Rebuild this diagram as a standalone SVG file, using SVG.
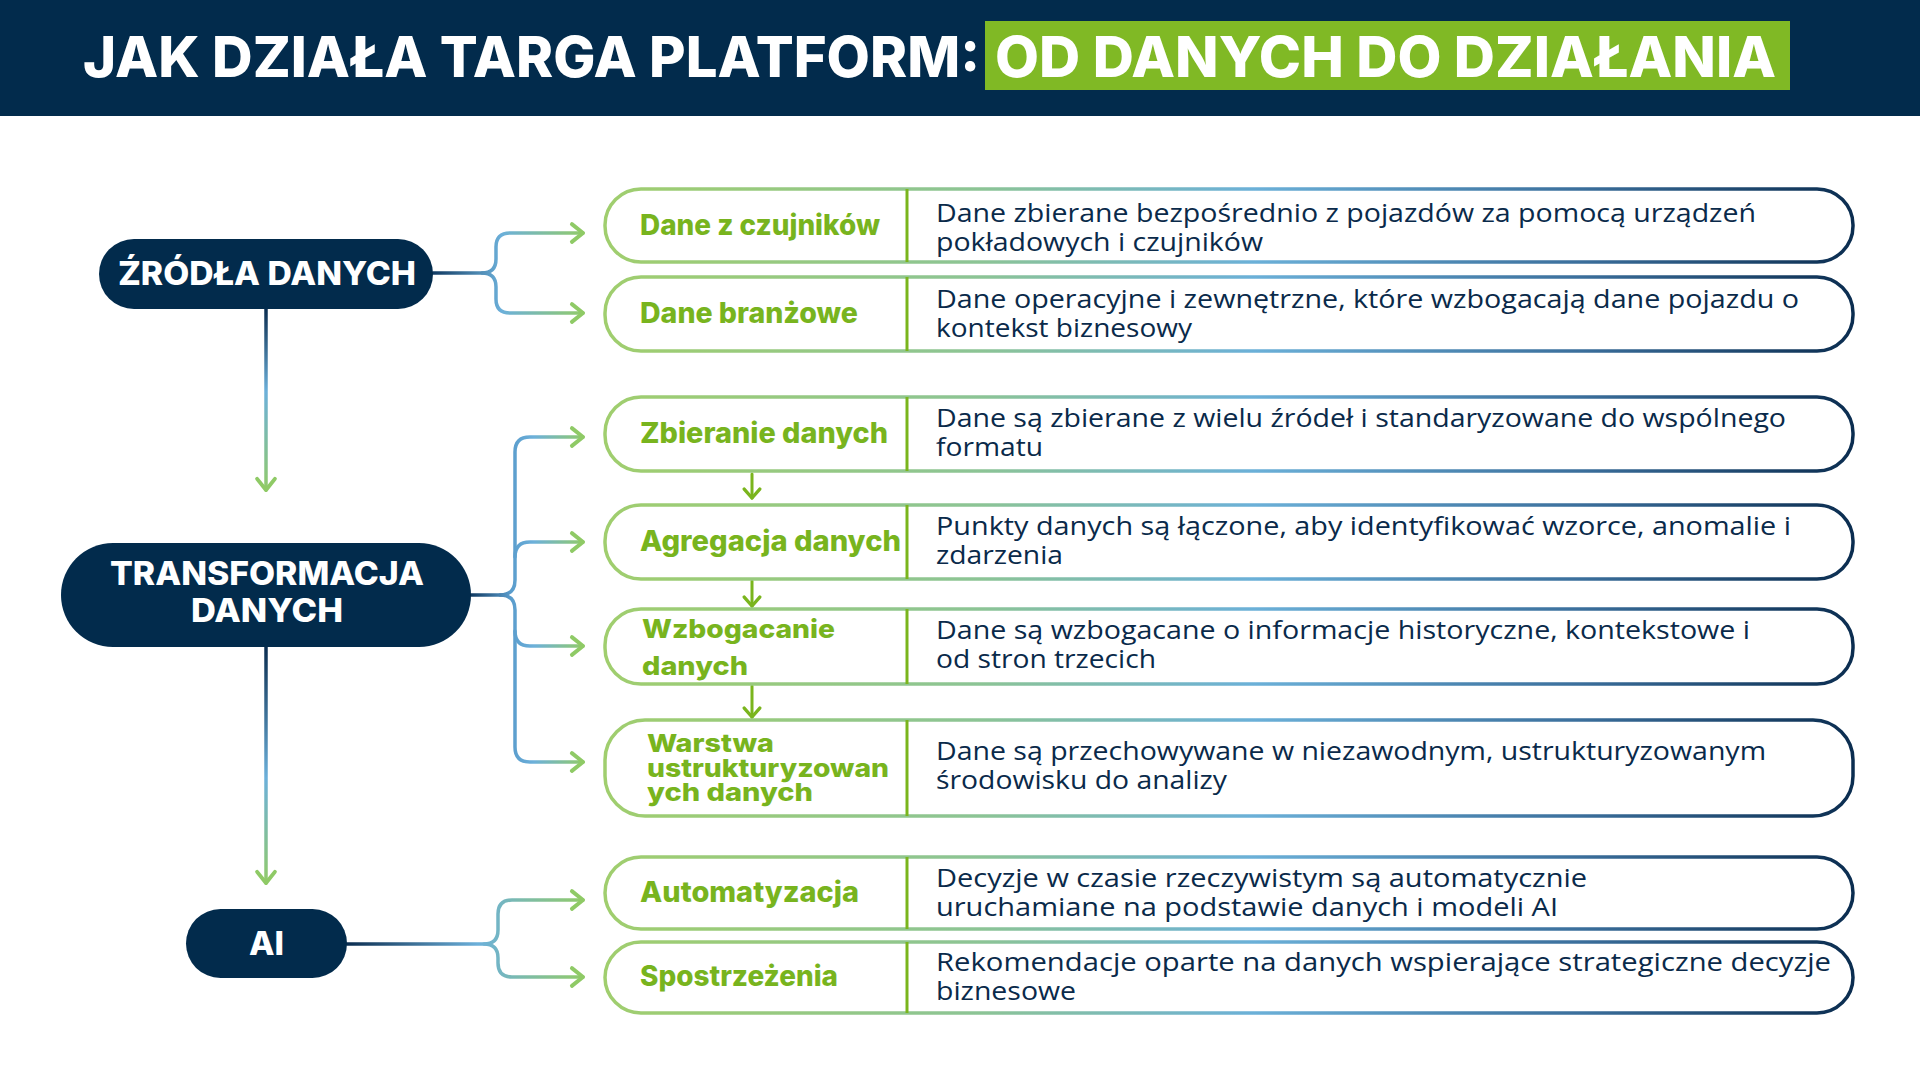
<svg xmlns="http://www.w3.org/2000/svg" width="1920" height="1080" viewBox="0 0 1920 1080">
<defs>
<style>
.title{font-family:Inter,"Open Sans",sans-serif;font-weight:800;font-size:57px;fill:#ffffff}
.node{fill:#022b4c}
.ntext{font-family:Inter,"Open Sans",sans-serif;font-weight:800;font-size:33px;fill:#ffffff}
.row{fill:#ffffff;stroke:url(#rowGrad);stroke-width:3.5}
.div{stroke:#7ab51d;stroke-width:3}
.lab{font-family:Inter,"Open Sans",sans-serif;font-weight:800;font-size:28px;fill:#78b41e}
.lab2{font-family:Inter,"Open Sans",sans-serif;font-weight:800;font-size:26px;fill:#78b41e}
.lab3{font-family:Inter,"Open Sans",sans-serif;font-weight:800;font-size:25px;fill:#78b41e}
.desc{font-family:"Open Sans","Noto Sans",sans-serif;font-size:25px;fill:#0a2a4a}
.con{fill:none;stroke-width:3.5;stroke-linecap:round}
.small{fill:none;stroke:#7ab51d;stroke-width:3;stroke-linecap:round}
</style>
<linearGradient id="rowGrad" gradientUnits="userSpaceOnUse" x1="605" y1="0" x2="1853" y2="0">
<stop offset="0" stop-color="#a0ce6e"/>
<stop offset="0.3" stop-color="#8cc495"/>
<stop offset="0.52" stop-color="#6bb0d8"/>
<stop offset="0.78" stop-color="#3b6f9c"/>
<stop offset="1" stop-color="#0b2d50"/>
</linearGradient>
<linearGradient id="gSrc" gradientUnits="userSpaceOnUse" x1="433" y1="0" x2="585" y2="0">
<stop offset="0" stop-color="#103a62"/>
<stop offset="0.45" stop-color="#6cb0da"/>
<stop offset="1" stop-color="#92cb68"/>
</linearGradient>
<linearGradient id="gTr" gradientUnits="userSpaceOnUse" x1="471" y1="0" x2="585" y2="0">
<stop offset="0" stop-color="#103a62"/>
<stop offset="0.35" stop-color="#5a9ccc"/>
<stop offset="0.55" stop-color="#6cb0da"/>
<stop offset="1" stop-color="#92cb68"/>
</linearGradient>
<linearGradient id="gAi" gradientUnits="userSpaceOnUse" x1="347" y1="0" x2="585" y2="0">
<stop offset="0" stop-color="#0b2d50"/>
<stop offset="0.55" stop-color="#6cb0da"/>
<stop offset="1" stop-color="#92cb68"/>
</linearGradient>
<linearGradient id="gV1" gradientUnits="userSpaceOnUse" x1="0" y1="309" x2="0" y2="492">
<stop offset="0" stop-color="#0b2d50"/>
<stop offset="0.45" stop-color="#6cb0da"/>
<stop offset="1" stop-color="#92cb68"/>
</linearGradient>
<linearGradient id="gV2" gradientUnits="userSpaceOnUse" x1="0" y1="647" x2="0" y2="885">
<stop offset="0" stop-color="#0b2d50"/>
<stop offset="0.55" stop-color="#6cb0da"/>
<stop offset="1" stop-color="#92cb68"/>
</linearGradient>
<marker id="arr" markerUnits="userSpaceOnUse" markerWidth="20" markerHeight="24" viewBox="-14 -10 18 20" refX="0" refY="0" orient="auto">
<path d="M-10,-8 L0,0 L-10,8" fill="none" stroke="#8fca66" stroke-width="3.5" stroke-linecap="round" stroke-linejoin="round"/>
</marker>
<marker id="arrS" markerUnits="userSpaceOnUse" markerWidth="20" markerHeight="20" viewBox="-12 -9 15 18" refX="0" refY="0" orient="auto">
<path d="M-8,-7 L0,0 L-8,7" fill="none" stroke="#7ab51d" stroke-width="3" stroke-linecap="round" stroke-linejoin="round"/>
</marker>
</defs>

<rect width="1920" height="1080" fill="#ffffff"/>

<g id="header">
<rect x="0" y="0" width="1920" height="116" fill="#022b4c"/>
<rect x="985" y="21" width="805" height="69" fill="#80b925"/>
<text class="title" x="83" y="77" textLength="897" lengthAdjust="spacingAndGlyphs">JAK DZIAŁA TARGA PLATFORM:</text>
<text class="title" x="995" y="77" textLength="781" lengthAdjust="spacingAndGlyphs">OD DANYCH DO DZIAŁANIA</text>
</g>

<g id="connectors">
<path class="con" stroke="url(#gSrc)" d="M433,273 H482 Q496,273 496,259 V247 Q496,233 510,233 H583" marker-end="url(#arr)"/>
<path class="con" stroke="url(#gSrc)" d="M482,273 Q496,273 496,287 V299 Q496,313 510,313 H583" marker-end="url(#arr)"/>
<path class="con" stroke="url(#gV1)" d="M266,309 V490" marker-end="url(#arr)"/>
<path class="con" stroke="url(#gTr)" d="M471,595 H500 Q515,595 515,580 V452 Q515,437 530,437 H583" marker-end="url(#arr)"/>
<path class="con" stroke="url(#gTr)" d="M515,557 Q515,542 530,542 H583" marker-end="url(#arr)"/>
<path class="con" stroke="url(#gTr)" d="M515,631 Q515,646 530,646 H583" marker-end="url(#arr)"/>
<path class="con" stroke="url(#gTr)" d="M500,595 Q515,595 515,610 V747 Q515,762 530,762 H583" marker-end="url(#arr)"/>
<path class="con" stroke="url(#gV2)" d="M266,647 V883" marker-end="url(#arr)"/>
<path class="con" stroke="url(#gAi)" d="M347,944 H484 Q498,944 498,930 V914 Q498,900 512,900 H583" marker-end="url(#arr)"/>
<path class="con" stroke="url(#gAi)" d="M484,944 Q498,944 498,958 V963 Q498,977 512,977 H583" marker-end="url(#arr)"/>
<path class="small" d="M752,474 V498" marker-end="url(#arrS)"/>
<path class="small" d="M752,581 V606" marker-end="url(#arrS)"/>
<path class="small" d="M752,686 V717" marker-end="url(#arrS)"/>
</g>

<g id="node-zrodla">
<rect class="node" x="99" y="239" width="334" height="70" rx="35"/>
<text class="ntext" x="118" y="285" textLength="298" lengthAdjust="spacingAndGlyphs">ŹRÓDŁA DANYCH</text>
</g>
<g id="node-transformacja">
<rect class="node" x="61" y="543" width="410" height="104" rx="52"/>
<text class="ntext" x="110" y="585" textLength="314" lengthAdjust="spacingAndGlyphs">TRANSFORMACJA</text>
<text class="ntext" x="191" y="622" textLength="152" lengthAdjust="spacingAndGlyphs">DANYCH</text>
</g>
<g id="node-ai">
<rect class="node" x="186" y="909" width="161" height="69" rx="34.5"/>
<text class="ntext" x="249" y="955" textLength="35" lengthAdjust="spacingAndGlyphs">AI</text>
</g>

<g id="row-1">
<rect class="row" x="605" y="189" width="1248" height="73" rx="36"/>
<line class="div" x1="907" y1="189" x2="907" y2="262"/>
<text class="lab" x="640" y="235" textLength="240" lengthAdjust="spacingAndGlyphs">Dane z czujników</text>
<text class="desc" x="936" y="222" textLength="820" lengthAdjust="spacingAndGlyphs">Dane zbierane bezpośrednio z pojazdów za pomocą urządzeń</text>
<text class="desc" x="936" y="251" textLength="327" lengthAdjust="spacingAndGlyphs">pokładowych i czujników</text>
</g>
<g id="row-2">
<rect class="row" x="605" y="277" width="1248" height="74" rx="36"/>
<line class="div" x1="907" y1="277" x2="907" y2="351"/>
<text class="lab" x="640" y="323" textLength="218" lengthAdjust="spacingAndGlyphs">Dane branżowe</text>
<text class="desc" x="936" y="308" textLength="863" lengthAdjust="spacingAndGlyphs">Dane operacyjne i zewnętrzne, które wzbogacają dane pojazdu o</text>
<text class="desc" x="936" y="337" textLength="256" lengthAdjust="spacingAndGlyphs">kontekst biznesowy</text>
</g>
<g id="row-3">
<rect class="row" x="605" y="397" width="1248" height="74" rx="36"/>
<line class="div" x1="907" y1="397" x2="907" y2="471"/>
<text class="lab" x="640" y="443" textLength="248" lengthAdjust="spacingAndGlyphs">Zbieranie danych</text>
<text class="desc" x="936" y="427" textLength="850" lengthAdjust="spacingAndGlyphs">Dane są zbierane z wielu źródeł i standaryzowane do wspólnego</text>
<text class="desc" x="936" y="456" textLength="107" lengthAdjust="spacingAndGlyphs">formatu</text>
</g>
<g id="row-4">
<rect class="row" x="605" y="505" width="1248" height="74" rx="36"/>
<line class="div" x1="907" y1="505" x2="907" y2="579"/>
<text class="lab" x="640" y="551" textLength="261" lengthAdjust="spacingAndGlyphs">Agregacja danych</text>
<text class="desc" x="936" y="535" textLength="855" lengthAdjust="spacingAndGlyphs">Punkty danych są łączone, aby identyfikować wzorce, anomalie i</text>
<text class="desc" x="936" y="564" textLength="127" lengthAdjust="spacingAndGlyphs">zdarzenia</text>
</g>
<g id="row-5">
<rect class="row" x="605" y="609" width="1248" height="75" rx="36"/>
<line class="div" x1="907" y1="609" x2="907" y2="684"/>
<text class="lab2" x="642" y="638" textLength="193" lengthAdjust="spacingAndGlyphs">Wzbogacanie</text>
<text class="lab2" x="642" y="675" textLength="106" lengthAdjust="spacingAndGlyphs">danych</text>
<text class="desc" x="936" y="639" textLength="814" lengthAdjust="spacingAndGlyphs">Dane są wzbogacane o informacje historyczne, kontekstowe i</text>
<text class="desc" x="936" y="668" textLength="220" lengthAdjust="spacingAndGlyphs">od stron trzecich</text>
</g>
<g id="row-6">
<rect class="row" x="605" y="720" width="1248" height="96" rx="40"/>
<line class="div" x1="907" y1="720" x2="907" y2="816"/>
<text class="lab3" x="647" y="752" textLength="127" lengthAdjust="spacingAndGlyphs">Warstwa</text>
<text class="lab3" x="647" y="777" textLength="242" lengthAdjust="spacingAndGlyphs">ustrukturyzowan</text>
<text class="lab3" x="647" y="801" textLength="166" lengthAdjust="spacingAndGlyphs">ych danych</text>
<text class="desc" x="936" y="760" textLength="830" lengthAdjust="spacingAndGlyphs">Dane są przechowywane w niezawodnym, ustrukturyzowanym</text>
<text class="desc" x="936" y="789" textLength="291" lengthAdjust="spacingAndGlyphs">środowisku do analizy</text>
</g>
<g id="row-7">
<rect class="row" x="605" y="857" width="1248" height="72" rx="36"/>
<line class="div" x1="907" y1="857" x2="907" y2="929"/>
<text class="lab" x="640" y="902" textLength="219" lengthAdjust="spacingAndGlyphs">Automatyzacja</text>
<text class="desc" x="936" y="887" textLength="651" lengthAdjust="spacingAndGlyphs">Decyzje w czasie rzeczywistym są automatycznie</text>
<text class="desc" x="936" y="916" textLength="622" lengthAdjust="spacingAndGlyphs">uruchamiane na podstawie danych i modeli AI</text>
</g>
<g id="row-8">
<rect class="row" x="605" y="942" width="1248" height="71" rx="36"/>
<line class="div" x1="907" y1="942" x2="907" y2="1013"/>
<text class="lab" x="640" y="986" textLength="198" lengthAdjust="spacingAndGlyphs">Spostrzeżenia</text>
<text class="desc" x="936" y="971" textLength="895" lengthAdjust="spacingAndGlyphs">Rekomendacje oparte na danych wspierające strategiczne decyzje</text>
<text class="desc" x="936" y="1000" textLength="140" lengthAdjust="spacingAndGlyphs">biznesowe</text>
</g>
</svg>
